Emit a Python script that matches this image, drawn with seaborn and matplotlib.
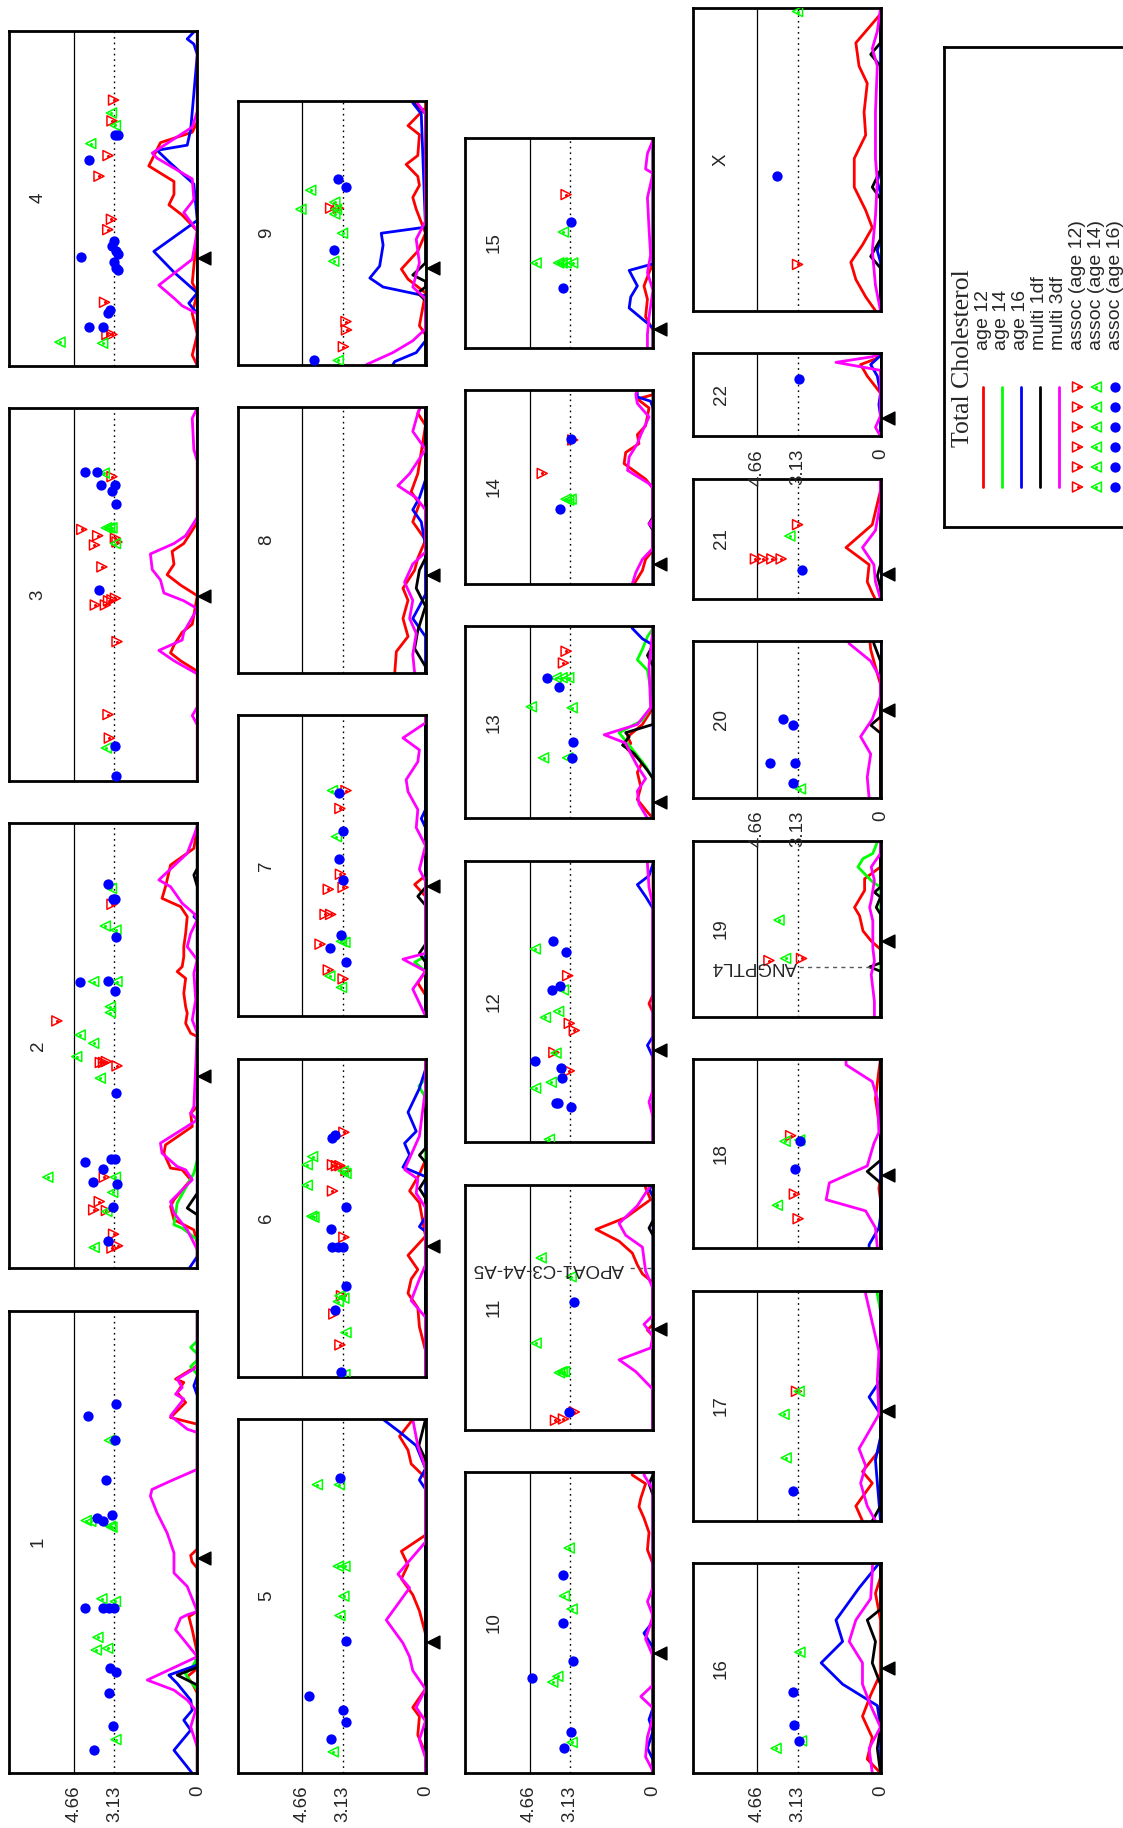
import matplotlib
matplotlib.use("Agg")
import matplotlib.pyplot as plt
import seaborn as sns

sns.set_style("white")
plt.rcParams['font.family'] = ['Liberation Sans', 'DejaVu Sans']

# ---- data -------------------------------------------------------------
chroms = ['1', '2', '3', '4', '5', '6', '7', '8', '9', '10', '11', '12',
          '13', '14', '15', '16', '17', '18', '19', '20', '21', '22', 'X']
chrom_len = [289, 278, 233, 209, 221, 199, 188, 166, 165, 188, 153, 176,
             120, 121, 131, 131, 144, 118, 110, 98, 75, 52, 189]

centromere = {'1': 134.4, '2': 120.1, '3': 115.7, '4': 67.4, '5': 81.8, '6': 82,
              '7': 81.1, '8': 61.1, '9': 60.5, '10': 74.8, '11': 63, '12': 57.7,
              '13': 10.4, '14': 12.5, '15': 11.6, '16': 65.5, '17': 68.8,
              '18': 45.7, '19': 47.3, '20': 55.2, '21': 15.7, '22': 11.4}

thresholds = [4.66, 3.13]

# linkage LOD curves, (cM, LOD) per chromosome
age12 = {
    '1': [(0,0),(50,0),(56,0.19),(60.2,0.38),(64,0.1),(74.8,0),(89.5,0.19),(97.8,0.32),(101,0),(128,0),(132,0.2),(136,0.25),(140,0),(218,0),(222.2,1.01),(231.6,0.44),(237.8,0.76),(244.1,0.51),(246.2,0.82),(254.6,0),(289,0)],
    '2': [(0,0),(15.6,0),(23.9,0.13),(30.2,0.88),(38.5,1.01),(42.7,0.88),(55.2,0.25),(61.4,0.57),(62.5,1.01),(71.8,1.26),(77,1.2),(88.5,0.19),(96.8,0.25),(101,0),(144.7,0),(146.8,0.25),(153,0.44),(159.3,0.38),(163.4,0.44),(171.8,0.51),(181.1,0.44),(185.3,0.76),(188.4,0.57),(194.7,0.51),(200.9,0.51),(209.2,0.44),(219.7,0.38),(225.9,0.63),(231.1,1.33),(238.4,1.2),(242.6,1.14),(251.9,1.01),(262.3,0.13),(275.9,0),(278,0)],
    '3': [(0,0),(68.5,0),(75,0.63),(79.9,1.01),(84.8,0.88),(92.9,0.57),(97.8,0.19),(115.7,0),(122.3,0.63),(128.8,1.14),(135.3,0.88),(143.4,0.95),(148.3,0.51),(161.4,0),(233,0)],
    '4': [(0,0),(6.5,0.19),(19.4,0),(32.4,0.19),(45.4,0),(51.8,0.19),(84.2,0),(94,0.57),(100.4,1.07),(106.9,0.88),(115,0.88),(124.7,1.83),(139.3,1.39),(145.8,0.19),(152.3,0),(209,0)],
    '5': [(0,0),(12.3,0),(23.8,0.29),(35.3,0.23),(41,0.48),(52.5,0),(87,0),(101.3,0.23),(111.4,0.48),(121.4,0.91),(130,0.66),(138.6,0.91),(148.7,0),(184.5,0),(193.2,0.54),(201.8,0.66),(210.4,0.98),(221,0.48)],
    '6': [(0,0),(16.4,0),(31.3,0.23),(43.2,0.29),(52.2,0.66),(61.1,0.54),(67.1,0.29),(76,0.66),(87.9,0),(108.8,0.23),(116.2,0.6),(126.7,0.23),(135.6,0),(199,0)],
    '7': [(0,0),(13.1,0),(20.6,0.29),(28,0),(74.8,0),(82.2,0.41),(87.8,0),(188,0)],
    '8': [(0,1.16),(13.2,1.1),(22.6,0.66),(33.9,0.85),(45.2,0.66),(52.8,0.85),(64.1,0.41),(71.6,0.29),(82.9,0),(94.3,0.48),(105.6,0.23),(113.1,0.54),(124.4,0.29),(154.6,0),(162.1,0.29),(166,0.2)],
    '9': [(0,0),(18.7,0),(24.3,0.23),(44.8,0),(53.4,0.66),(59.7,0.91),(70.9,0.29),(82.1,0),(97.1,0.35),(104.5,0.48),(112,0.23),(117.6,0.29),(125.1,0.73),(130.7,0.29),(143.7,0.23),(149.3,0.66),(160.5,0),(165,0)],
    '10': [(0,0),(130.5,0),(139.5,0.21),(150.3,0.15),(159.3,0.34),(166.4,0.53),(171.8,0.46),(180.8,0.28),(186.2,0.78),(188,0.8)],
    '11': [(0,0),(58.5,0),(62.2,0.21),(65.9,0),(91.9,0),(97.4,0.4),(103,0.59),(110.4,0.78),(117.8,1.28),(125.2,2.15),(132.6,1.03),(143.8,0.09),(151.2,0.28),(153,0.3)],
    '12': [(0,0),(81.1,0),(86.7,0.15),(92.3,0),(176,0)],
    '13': [(0,0),(3.9,0.21),(11.7,0.59),(19.6,0.46),(28.7,0.59),(35.2,0.4),(43,0.96),(47,0.84),(50.9,0.96),(58.7,0.4),(69.1,0),(120,0)],
    '14': [(0,0.71),(8.3,0.4),(15.3,0.28),(20.9,0),(59.8,0),(65.4,0.28),(75.1,1.09),(82.1,1.03),(87.6,0.53),(93.2,0.59),(98.8,0.28),(109.9,0.15),(115.5,0.59),(118.2,0),(121,0)],
    '15': [(0,0),(11,0),(19.3,0.28),(30.3,0.21),(38.6,0.34),(46.9,0.15),(52.4,0),(131,0)],
    '16': [(0,0),(8.7,0.5),(22.1,0.31),(35.4,0.68),(48.8,0.37),(62.2,0),(95.6,0),(112.3,0.19),(122.3,0),(131,0)],
    '17': [(0,0.68),(9.3,0.93),(23.6,0.31),(30.8,0.68),(45.1,0),(144,0)],
    '18': [(0,0),(30.2,0),(37.2,0.06),(44.3,0),(72.3,0),(93.4,0.19),(111,0.06),(118,0)],
    '19': [(0,0),(42.1,0),(47.3,0.35),(53.6,0.66),(63.1,0.79),(68.3,0.98),(78.9,0.6),(86.2,0.6),(93.6,0),(110,0)],
    '20': [(0,0),(71.1,0),(82,0.19),(92.9,0.37),(98,0.4)],
    '21': [(0,0.2),(3.6,0.31),(10.7,0.5),(21.4,0.43),(32.1,1.3),(46.4,0.31),(67.8,0),(75,0)],
    '22': [(0,0),(27.1,0),(37.7,0.5),(44.9,0.75),(48.4,0.19),(52,0)],
    'X': [(0,0.19),(8.7,0.56),(19.5,0.93),(30.3,1.12),(41.1,0.68),(51.9,0.31),(62.8,0.56),(77.2,0.99),(95.2,0.99),(109.7,0.56),(124.1,0.62),(142.1,0.5),(152.9,0.81),(167.4,0.93),(185.4,0),(189,0)],
}

age14 = {
    '1': [(0,0),(52,0),(58,0.3),(62,0.45),(66,0.2),(72,0),(249,0),(254,0.25),(258,0),(262,0),(266,0.25),(270,0),(289,0)],
    '2': [(0,0),(17.7,0),(25,0.57),(27.1,0.88),(40.6,0.76),(59.3,0.13),(67.7,0),(278,0)],
    '6': [(0,0),(174.3,0),(181.8,0.25),(186.3,0),(199,0)],
    '7': [(0,0),(28,0),(33.6,0.41),(37.4,0),(188,0)],
    '13': [(0,0),(24.8,0),(32.6,0.28),(40.4,0.65),(45.7,0.9),(53.5,1.28),(61.3,0.4),(71.7,0),(92.6,0.21),(99.1,0.59),(105.7,0.4),(113.5,0.21),(118.7,0),(120,0)],
    '17': [(0,0),(131.1,0),(141.8,0.12),(144,0.12)],
    '19': [(0,0),(81,0),(84.1,0.29),(88.3,0.54),(93.6,0.85),(98.8,0.66),(102,0.29),(110,0.1)],
}

age16 = {
    '1': [(0,0.2),(3.8,0.38),(14.2,0.88),(26.8,0.25),(33,0.51),(39.3,0.19),(45.6,0.25),(56,0.76),(61.2,1.07),(67.5,0),(236,0),(242,0.13),(248,0),(289,0)],
    '2': [(0,0.3),(7.3,0),(217.6,0),(219.7,0.13),(221.7,0),(278,0)],
    '4': [(0,0),(32.4,0),(38.9,0.32),(45.4,0),(58.3,0.88),(71.3,1.64),(90.7,0),(113.4,0.13),(126.4,1.01),(134.5,1.52),(137.7,0.38),(147.4,0.25),(194.4,0),(200.9,0.13),(204.1,0.38),(209,0.1)],
    '5': [(0,0),(177.4,0),(183.1,0.23),(190.3,0),(204.6,0.35),(213.2,0.98),(221,1.6)],
    '6': [(0,0),(90.9,0),(93.9,0.23),(99.8,0),(125.2,0),(131.1,0.85),(138.6,0.6),(146,0.79),(153.5,0.35),(165.4,0.66),(180.3,0.23),(192.2,0),(199,0)],
    '7': [(0,0),(117.7,0),(123.4,0.16),(129,0),(188,0)],
    '8': [(0,0),(22.6,0),(33.9,0.48),(41.5,0.23),(49,0),(79.2,0),(94.3,0.16),(101.8,0.48),(109.3,0.23),(120.6,0),(166,0)],
    '9': [(0,1.23),(1.9,1.16),(7.5,0.35),(14.9,0),(42.9,0),(48.5,1.6),(54.1,2.1),(61.6,1.73),(74.7,1.6),(82.1,1.67),(85.9,0),(156.8,0.16),(163.5,0.48),(165,0.4)],
    '10': [(0,0),(8.3,0),(15.5,0.21),(26.2,0),(33.4,0.15),(40.6,0),(78.4,0),(87.4,0.34),(94.5,0),(188,0)],
    '11': [(0,0),(145.6,0),(150.4,0.15),(153,0)],
    '12': [(0,0),(53.2,0),(60.7,0.21),(66.2,0),(146.2,0),(153.7,0.28),(161.1,0.59),(166.7,0.15),(174.1,0),(176,0)],
    '13': [(0,0),(108.3,0),(112.2,0.4),(118.7,0.78),(120,0.8)],
    '14': [(0,0),(109.9,0),(114.1,0.09),(116.8,0.59),(121,0.6)],
    '15': [(0,0),(12.4,0),(17.9,0.4),(24.8,0.9),(31.7,0.84),(38.6,0.59),(48.3,0.9),(52.4,0),(131,0)],
    '16': [(0,0),(28.7,0),(42.1,0.12),(55.5,1.43),(68.8,2.24),(82.2,1.43),(95.6,1.68),(115.6,0.81),(131,0.06)],
    '17': [(0,0),(38,0.19),(52.3,0),(66.6,0),(77.4,0.43),(88.1,0),(144,0)],
    '18': [(0,0.43),(2.1,0.43),(12.6,0.06),(19.7,0),(118,0)],
    '22': [(0,0),(12.8,0),(19.9,0.06),(27.1,0),(37.7,0.12),(44.9,0.37),(50.5,0),(52,0)],
    'X': [(0,0),(30.3,0),(37.5,0.12),(44.7,0),(73.6,0),(80.8,0.12),(88,0),(189,0)],
}

multi_1df = {
    '1': [(0,0),(55,0),(61.2,0.76),(66,0),(289,0)],
    '2': [(0,0),(33.3,0),(37.5,0.38),(46.8,0),(238.4,0),(245.7,0.13),(249.8,0),(278,0)],
    '5': [(0,0),(196,0),(204.6,0.25),(221,0)],
    '6': [(0,0),(111.8,0),(117.7,0.23),(123.7,0),(134.1,0),(138.6,0.23),(143,0),(199,0)],
    '7': [(0,0),(33.6,0),(39.2,0.23),(44.9,0),(69.2,0),(74.8,0.29),(80.4,0),(188,0)],
    '8': [(0,0),(3.8,0),(15.1,0.41),(26.4,0.29),(41.5,0),(52.8,0.35),(64.1,0.23),(71.6,0),(166,0)],
    '9': [(0,0),(40,0),(44.8,0.29),(48.5,0),(52,0),(56,0.48),(63.5,0),(156.8,0),(164.3,0.41),(165,0.3)],
    '10': [(0,0),(173.6,0),(180.8,0.15),(186.2,0),(188,0)],
    '11': [(0,0),(121.5,0),(126,0.15),(130.8,0),(153,0)],
    '13': [(0,0),(24.8,0),(30,0.21),(40.4,0.71),(45.7,1.15),(50.9,0.9),(53.5,1.03),(58.7,0),(95.2,0),(101.8,0.21),(108.3,0),(120,0)],
    '14': [(0,0),(33.4,0),(37.6,0.15),(41.7,0),(121,0)],
    '16': [(0,0),(15.4,0.12),(28.7,0),(55.5,0),(68.8,0.31),(82.2,0.19),(95.6,0.5),(102.3,0),(131,0)],
    '17': [(0,0.31),(9.3,0),(144,0)],
    '18': [(0,0),(40.7,0),(47.8,0.5),(54.8,0),(118,0)],
    '19': [(0,0),(28.4,0),(31.1,0.41),(33.6,0),(64.1,0),(68.3,0.16),(74.7,0),(77.8,0.23),(81,0),(110,0)],
    '20': [(0,0),(40.7,0),(45.7,0.37),(50.8,0),(85.7,0),(96.6,0.25),(98,0.25)],
    '21': [(0,0),(7.1,0),(14.3,0.12),(21.4,0),(75,0)],
    'X': [(0,0),(26.7,0),(33.9,0.37),(44.7,0),(70,0),(77.2,0.31),(88,0),(152.9,0),(160.2,0.37),(167.4,0),(189,0)],
}

multi_3df = {
    '1': [(0,0),(16.3,0),(28.8,0.25),(39.3,0.06),(45.6,0.38),(51.8,0.88),(58.1,1.89),(72.7,0),(83.2,0.51),(89.5,0.82),(96.8,0.63),(98.9,0.38),(100.9,0),(116.6,0.38),(125,0.88),(137.5,0.88),(150.1,1.14),(162.6,1.52),(173.1,1.77),(177.2,1.71),(182.5,1.01),(189.8,0),(212.8,0),(214.9,0.38),(223.2,1.01),(233.7,0.51),(236.8,0.82),(241,0.57),(246.2,0.76),(252.5,0.13),(254.6,0),(289,0)],
    '2': [(0,0),(11.5,0),(23.9,0.38),(34.4,0.88),(41.6,1.01),(55.2,0.19),(61.4,0.44),(63.5,0.76),(71.8,1.33),(78.1,1.39),(92.6,0),(96.8,0.25),(101,0.13),(146.8,0),(155.1,0.19),(167.6,0.06),(184.3,0.13),(192.6,0),(200.9,0.38),(209.2,0.25),(217.6,0),(221.7,0.13),(228,0.57),(238.4,1.01),(242.6,1.45),(259.2,0.38),(275.9,0),(278,0)],
    '3': [(0,0),(35,0),(40.8,0.19),(46,0),(66.8,0),(75,0.88),(81.5,1.45),(88,0.57),(92.9,0.51),(107.6,0),(112.5,0.51),(117.4,1.26),(125.5,1.39),(132,1.7),(141.8,1.77),(148.3,0.88),(153.2,0.44),(164.6,0),(200,0),(207,0.13),(226.6,0.19),(233,0)],
    '4': [(0,0),(32.4,0),(37.3,0.57),(42.1,0.88),(50.2,1.45),(66.4,0.19),(84.2,0),(95.6,0.51),(103.7,0.13),(116.6,0.19),(129.6,1.52),(132.8,1.7),(149,0.19),(158.8,0),(209,0)],
    '5': [(0,0),(9.5,0),(21,0.23),(32.4,0),(41,0.35),(52.5,0),(64,0.48),(72.6,0.6),(81.2,0.85),(95.6,1.48),(115.7,0.6),(124.3,1.04),(144.4,0),(190.3,0),(204.6,0.29),(221,0.48)],
    '6': [(0,0),(37.3,0),(47.7,0.54),(61.1,0.23),(70,0),(105.8,0),(114.7,0.35),(123.7,0.29),(129.6,0.79),(150.5,0.23),(180.3,0),(199,0)],
    '7': [(0,0),(5.6,0.16),(16.8,0.48),(28,0),(35.5,0.85),(39.2,0),(84.1,0),(91.6,0.23),(106.5,0),(117.7,0.35),(129,0.29),(140.2,0.66),(147.7,0.73),(158.9,0.29),(166.3,0.23),(173.8,0.85),(183.2,0),(188,0)],
    '8': [(0,0.41),(11.3,0.48),(24.5,0.35),(33.9,0.6),(45.2,0.48),(56.6,0.79),(67.9,0.48),(75.4,0),(101.8,0),(109.3,0.35),(116.9,1.04),(124.4,0.6),(139.5,0),(150.8,0.48),(162.1,0.29),(166,0.2)],
    '9': [(0,2.23),(7.5,1.23),(14.9,0.48),(22.4,0),(41.1,0),(48.5,0.48),(63.5,0.23),(78.4,0.35),(89.6,0),(156.8,0),(164.3,0.35),(165,0.3)],
    '10': [(0,0),(1.1,0),(10.1,0.28),(22.6,0.21),(35,0),(40.6,0),(47.8,0.46),(55,0),(73,0),(83.8,0.28),(98.1,0),(107.1,0.21),(116.1,0),(177.2,0),(186.2,0.34),(188,0.3)],
    '11': [(0,0),(25.2,0),(36.3,0.65),(43.7,1.28),(51.1,0.09),(58.5,0),(65.9,0.34),(71.5,0),(88.2,0),(99.3,0.28),(114.1,0.4),(121.5,1.03),(128.9,1.28),(140,0.59),(151.2,0.15),(153,0.1)],
    '12': [(0,0),(16,0),(25.3,0.15),(32.7,0),(148.1,0),(159.3,0.15),(174.1,0.21),(176,0.2)],
    '13': [(0,0.21),(9.1,0.53),(17,0.59),(24.8,0.28),(32.6,0.59),(40.4,0.84),(47,1.03),(52.2,1.84),(58.7,0.59),(69.1,0.09),(95.2,0.15),(118.7,0),(120,0)],
    '14': [(0,0.78),(7,0.65),(15.3,0.4),(22.3,0),(34.8,0),(37.6,0.15),(40.3,0),(59.8,0),(62.6,0.15),(70.9,0.96),(79.3,0.9),(87.6,0.59),(93.2,0.46),(104.3,0.15),(112.7,0.59),(118.2,0.65),(121,0.6)],
    '15': [(0,0.21),(8.3,0.21),(19.3,0.15),(35.9,0),(46.9,0.21),(57.9,0.09),(74.5,0.15),(93.8,0.21),(108.9,0),(111.7,0.28),(121.4,0.21),(129.6,0),(131,0)],
    '16': [(0,0.31),(15.4,0.43),(28.7,0),(42.1,0.37),(55.5,0.68),(68.8,0.68),(82.2,1.18),(95.6,0.93),(109,0.37),(125.7,0.31),(131,0.3)],
    '17': [(0,0.19),(9.3,0.5),(23.6,0.75),(34.4,0.56),(45.1,0.81),(66.6,0.06),(88.1,0.12),(106,0.06),(123.9,0.31),(141.8,0.56),(144,0.56)],
    '18': [(0,0.12),(12.6,0.19),(23.2,0.56),(30.2,2.05),(40.7,1.93),(51.3,0.5),(65.3,0.25),(72.3,0.06),(93.4,0.12),(104,0.31),(114.5,1.3),(118,1.3)],
    '19': [(0,0.23),(9.5,0.23),(17.9,0.29),(26.3,0.35),(34.7,0.23),(43.1,0.29),(51.5,0.29),(59.9,0.29),(68.3,0.41),(72.6,0.35),(85.2,0.23),(93.6,0.35),(102,0),(110,0)],
    '20': [(0,0.43),(13.1,0.5),(27.6,0.37),(38.5,0.75),(49.4,0.31),(63.9,0),(74.8,0),(85.7,0.37),(96.6,1.18),(98,1.2)],
    '21': [(0,0),(10.7,0.19),(21.4,0.25),(32.1,0.68),(42.8,0.19),(60.7,0),(75,0)],
    '22': [(0,0),(5.7,0.19),(12.8,0),(41.3,0),(46.3,1.68),(49.8,0.31),(52,0)],
    'X': [(0,0),(15.9,0.19),(37.5,0.31),(59.2,0.19),(80.8,0.12),(95.2,0.19),(124.1,0.19),(152.9,0.12),(163.8,0.31),(174.6,0.12),(189,0)],
}

# association results, (cM, -log10 p)
assoc_age12 = {
    '2': [(227.4,3.22),(154.5,5.3),(128.5,3.66),(128.5,3.54),(129.1,3.43),(126.4,3.03),(56.8,3.51),(41.6,3.7),(36.4,3.91),(36,3.43),(21.2,3.16),(12.5,3.22),(13.9,3.01)],
    '3': [(190.1,3.22),(157.1,4.36),(153.2,3.76),(147.4,3.88),(151.6,3.09),(149.3,3.03),(133.7,3.6),(109.9,3.85),(109.9,3.47),(112.5,3.35),(113.1,3.22),(114.1,3.09),(87,3.03),(41.4,3.37),(26.7,3.32)],
    '4': [(165.9,3.16),(152.9,3.22),(131.2,3.37),(118.3,3.71),(91.4,3.24),(84.9,3.38),(39.5,3.5),(19.4,3.41),(19.4,3.22)],
    '6': [(152.9,3.08),(132.6,3.51),(132,3.36),(132,3.23),(129,3),(116.2,3.51),(87.3,3.08),(50.7,3.17),(39.3,3.46),(20,3.23)],
    '7': [(140.9,3),(129.7,3.23),(88.6,3.21),(80.4,3.11),(79.2,3.67),(63.5,3.79),(63.5,3.58),(44.9,3.98),(28.8,3.67),(23.2,3.11)],
    '9': [(97.8,3.58),(97.8,3.29),(26.9,3),(21.7,2.98),(11.2,3.1)],
    '11': [(5.9,3.68),(6.7,3.38),(11.1,2.97)],
    '12': [(104.2,3.22),(74.4,3.16),(70,2.97),(56.2,3.74),(44.7,3.16)],
    '13': [(104.4,3.28),(97.1,3.38)],
    '14': [(69,4.18),(89.9,3.03)],
    '15': [(95.7,3.28)],
    '17': [(81,3.17)],
    '18': [(70.2,3.39),(33.7,3.25),(18.3,3.11)],
    '19': [(35.1,4.21),(36.4,2.98)],
    '21': [(25,4.72),(25,4.43),(25,4.1),(25,3.75),(46.4,3.13)],
    'X': [(28.9,3.13)],
}

assoc_age14 = {
    '1': [(207.9,3.31),(157.8,4.19),(157.3,4.02),(154.2,3.28),(153.6,3.22),(108.9,3.6),(107.2,3.09),(84.8,3.75),(76.9,3.81),(77.9,3.38),(20.9,3.07)],
    '2': [(237.3,3.24),(213.8,3.47),(211.3,3.07),(179.1,3.91),(179.1,3.03),(163.4,3.28),(159.7,3.28),(145.7,4.42),(140.5,3.91),(132.2,4.55),(118.7,3.66),(56.8,5.64),(56.8,3.09),(47.3,3.19),(35.4,3.41),(12.9,3.89)],
    '3': [(192.3,3.51),(158.1,3.43),(158.1,3.31),(158.1,3.22),(148.3,3.09),(20.5,3.43)],
    '4': [(138.7,4.02),(157.8,3.24),(150,3.09),(14.6,5.18),(13.9,3.57)],
    '5': [(180.2,4.08),(180.2,3.25),(129.2,3.29),(129.2,3.04),(110.5,3.08),(98.4,3.23),(13.2,3.48)],
    '6': [(137.7,4.26),(132.6,4.46),(119.8,4.46),(100.4,4.29),(99.8,4.21),(128.7,3.1),(127.2,3),(47.1,3.29),(50.7,3.23),(49.2,3.08),(27.7,3),(1.5,3.04)],
    '7': [(140.9,3.51),(112.1,3.36),(46.7,3.17),(46,3.04),(25,3.61),(17.9,3.17)],
    '9': [(109,4.33),(97.1,4.7),(101.5,3.42),(97.1,3.36),(94.1,3.42),(82.1,3.13),(64.6,3.46),(2.6,3.29)],
    '10': [(140.6,3.16),(110.7,3.34),(102.5,3.05),(56.8,3.78),(60.4,3.59),(19.1,3.05)],
    '11': [(107.4,4.22),(95.6,3.09),(54.1,4.41),(35.6,3.53),(36.3,3.43),(36.3,3.34)],
    '12': [(120.9,4.44),(95.3,3.38),(81.9,3.56),(78.1,4.06),(55.8,3.66),(37.6,3.84),(33.9,4.43),(1.9,3.91)],
    '13': [(87.9,3.66),(87.9,3.43),(87.9,3.18),(69.7,4.59),(69.1,3.05),(37.8,4.13),(37.8,3.22)],
    '14': [(52.9,3.28),(52.3,3.18),(52.9,3.09)],
    '15': [(72.3,3.38),(53,4.41),(53,3.56),(53,3.43),(53,3.28),(53,3.03)],
    '16': [(15.4,3.94),(75.5,3.04),(20.1,2.98)],
    '17': [(66.6,3.64),(39.4,3.56),(81,3.07)],
    '18': [(66.7,3.6),(26.7,3.89),(67.5,3.05)],
    '19': [(60.4,3.83),(36.4,3.58)],
    '20': [(5.8,3.02)],
    '21': [(39.3,3.42)],
    'X': [(187,3.13)],
}

assoc_age16 = {
    '1': [(223.2,4.14),(230.9,3.06),(207.9,3.09),(183,3.46),(159.4,3.79),(157.3,3.54),(161.5,3.22),(103,4.23),(103,3.54),(103,3.35),(103,3.16),(65.8,3.31),(63.3,3.07),(49.7,3.35),(29.3,3.18),(14.6,3.91)],
    '2': [(240,3.37),(230.5,3.18),(230.5,3.12),(207.2,3.08),(179.1,4.44),(179.7,3.38),(173.2,3.12),(109.7,3.06),(66.6,4.23),(68.3,3.24),(68.3,3.09),(61.8,3.54),(53.7,3.95),(52.7,3.03),(37.9,3.19),(16.7,3.37)],
    '3': [(193,4.23),(193,3.79),(184.8,3.64),(184.8,3.09),(180.9,3.22),(172.8,3.06),(119,3.7),(21.8,3.09),(3.3,3.06)],
    '4': [(128.6,4.07),(144.2,3.09),(144.2,2.99),(68,4.38),(77.8,3.16),(74.5,3.22),(71.3,3.06),(69.7,3.01),(64.8,3.16),(60.9,3.06),(59.9,2.99),(35,3.28),(33,3.38),(24.3,3.56),(24.3,4.1)],
    '5': [(184.5,3.23),(82.7,3),(48.2,4.38),(39.6,3.1),(31.6,3),(21,3.58)],
    '6': [(149.6,3.51),(151.1,3.42),(106.4,3),(92.4,3.58),(81.1,3.51),(81.1,3.29),(81.1,3.13),(56.6,3),(41.7,3.42),(3,3.17)],
    '7': [(139.1,3.26),(115.9,3.11),(97.9,3.26),(84.9,3.11),(50.5,3.17),(42.2,3.61),(33.6,3)],
    '9': [(115.7,3.29),(111.2,3),(71.7,3.46),(2.6,4.21)],
    '10': [(124,3.38),(93.5,3.38),(70.1,3.03),(59.3,4.56),(25.5,3.09),(15.5,3.34)],
    '11': [(80,3),(11.1,3.18)],
    '12': [(125.8,3.78),(119.1,3.28),(95.3,3.81),(97.9,3.51),(50.6,4.47),(46.5,3.47),(40.2,3.43),(24.6,3.66),(22.3,3.09),(24.6,3.59)],
    '13': [(87.9,4.01),(82.2,3.53),(47.5,3.03),(37.8,3.05)],
    '14': [(90.4,3.09),(46.5,3.51)],
    '15': [(78.6,3.09),(37.2,3.38)],
    '16': [(50.8,3.32),(30.1,3.27),(20.1,3.07)],
    '17': [(18.6,3.32)],
    '18': [(66.7,3.04),(49.2,3.23)],
    '20': [(49.4,3.69),(45.7,3.32),(21.8,4.16),(21.8,3.23),(9.4,3.32)],
    '21': [(17.9,2.98)],
    '22': [(35.6,3.07)],
    'X': [(84.4,3.91)],
}

gene_names = ['APOA1-C3-A4-A5', 'ANGPTL4']
gene_chrom = ['11', '19']
gene_pos = [101, 31.1]

line_labels = ['age 12', 'age 14', 'age 16', 'multi 1df', 'multi 3df']
assoc_labels = ['assoc (age 12)', 'assoc (age 14)', 'assoc (age 16)']

# ---- layout -----------------------------------------------------------
W, H = 1123, 1828
fig = plt.figure(figsize=(W / 100, H / 100), dpi=100)

columns = [['1', '2', '3', '4'],
           ['5', '6', '7', '8', '9'],
           ['10', '11', '12', '13', '14', '15'],
           ['16', '17', '18', '19', '20', '21', '22', 'X']]
col_left = [9.3, 237.5, 465.0, 692.5]
panel_w = 188.0
base_y = 1773.0
gap = 42.5
px_per_cm = 1.6
lod_left = panel_w / 26.5
tick_panels = ['1', '5', '10', '16', '20', '22']

RED, GREEN, BLUE = '#ff0000', '#00ff00', '#0000ff'
line_colors = [RED, GREEN, BLUE, '#000000', '#ff00ff']
series = [age12, age14, age16, multi_1df, multi_3df]
FS = 13.5
LW = 2.0


def add_px_axes(left, top, width, height):
    return fig.add_axes([left / W, 1 - (top + height) / H, width / W, height / H])


def hollow(ax, pts, marker, color, **kw):
    xs, ys = [p[1] for p in pts], [p[0] for p in pts]
    ax.scatter(xs, ys, marker=marker, s=52, facecolors='none', edgecolors=color,
               linewidths=1.1, zorder=4, **kw)
    ax.scatter(xs, ys, marker='o', s=1.5, color=color, zorder=4, **kw)


def draw_panel(ax, ch, L):
    ax.axvline(thresholds[0], color='black', lw=0.9, zorder=1)
    ax.axvline(thresholds[1], color='black', lw=1.0, ls=(0, (1.2, 2.8)), zorder=1)

    for data, c in zip(series, line_colors):
        pts = data.get(ch, [(0, 0), (L, 0)])
        sns.lineplot(x=[p[1] for p in pts], y=[p[0] for p in pts], orient='y',
                     sort=False, estimator=None, color=c, lw=LW, ax=ax)

    if ch in assoc_age12:
        hollow(ax, assoc_age12[ch], '>', RED)
    if ch in assoc_age14:
        hollow(ax, assoc_age14[ch], '<', GREEN)
    if ch in assoc_age16:
        pts = assoc_age16[ch]
        sns.scatterplot(x=[p[1] for p in pts], y=[p[0] for p in pts], marker='o',
                        s=55, color=BLUE, edgecolor=BLUE, linewidth=0,
                        zorder=5, ax=ax)

    if ch in centromere:
        ax.scatter([-0.27], [centromere[ch]], marker='<', s=85, color='black',
                   clip_on=False, zorder=6)

    if ch in gene_chrom:
        g = gene_chrom.index(ch)
        if ch == '11':
            seg, lx = (0.08, 0.85), 1.1
        else:
            seg, lx = (0.4, 3.1), 3.17
        ax.plot(seg, [gene_pos[g]] * 2, color='0.35', lw=1.0, ls=(0, (3, 3)), zorder=3)
        ax.text(lx, gene_pos[g], gene_names[g], rotation=180, ha='right',
                va='center', fontsize=FS, clip_on=False, zorder=7)

    ax.text(6.0, L / 2, ch, rotation=90, ha='center', va='center', fontsize=FS)

    ax.set_xlim(lod_left, 0)
    ax.set_ylim(0, L)
    ax.set_yticks([])
    if ch in tick_panels:
        ax.set_xticks([4.66, 3.13, 0])
        ax.set_xticklabels(['4.66', '3.13', '0'], rotation=90, fontsize=FS)
        ax.tick_params(axis='x', length=0, pad=9)
        ax.set_zorder(2)
    else:
        ax.set_xticks([])
    ax.set_xlabel('')
    ax.set_ylabel('')
    for s in ax.spines.values():
        s.set_linewidth(2.0)
        s.set_color('black')
        s.set_zorder(3)


for ci, col in enumerate(columns):
    bottom = base_y
    for ch in col:
        L = chrom_len[chroms.index(ch)]
        h = L * px_per_cm
        ax = add_px_axes(col_left[ci], bottom - h, panel_w, h)
        draw_panel(ax, ch, L)
        bottom = bottom - h - gap

# ---- key --------------------------------------------------------------
lax = add_px_axes(944, 47, 200, 480)
lax.set_xlim(944, 1144)
lax.set_ylim(527, 47)
lax.set_xticks([])
lax.set_yticks([])
for s in lax.spines.values():
    s.set_linewidth(2.0)
    s.set_color('black')

lax.text(963, 447, 'Total Cholesterol', rotation=90, ha='center', va='bottom',
         fontsize=18.5, family=['Liberation Serif', 'DejaVu Serif'])

entry_x = [983 + 18.9 * i for i in range(8)]
sample_y = [387 + 20 * k for k in range(6)]
for i, lab in enumerate(line_labels):
    lax.plot([entry_x[i], entry_x[i]], [487, 387], color=line_colors[i], lw=LW)
    lax.text(entry_x[i], 350, lab, rotation=90, ha='center', va='bottom', fontsize=14)
for j, (lab, m, c) in enumerate(zip(assoc_labels, ['>', '<', 'o'], [RED, GREEN, BLUE])):
    x = entry_x[5 + j]
    pts = [(y, x) for y in sample_y]
    if m == 'o':
        lax.scatter([x] * 6, sample_y, marker='o', s=55, color=c, linewidths=0)
    else:
        lax.scatter([x] * 6, sample_y, marker=m, s=52, facecolors='none',
                    edgecolors=c, linewidths=1.1)
        lax.scatter([x] * 6, sample_y, marker='o', s=1.5, color=c)
    lax.text(x, 350, lab, rotation=90, ha='center', va='bottom', fontsize=14)

fig.savefig('out.png', dpi=100)
